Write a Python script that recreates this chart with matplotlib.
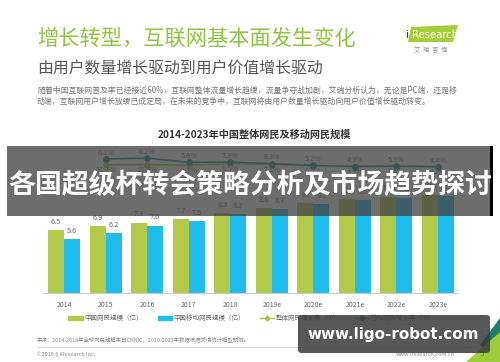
import matplotlib
matplotlib.use("Agg")
import matplotlib.pyplot as plt
from matplotlib.patches import Rectangle, Polygon, FancyBboxPatch
from matplotlib.lines import Line2D

plt.rcParams['font.family'] = ['Noto Sans CJK SC', 'DejaVu Sans']

# ---- data ----
years = ["2014", "2015", "2016", "2017", "2018", "2019e", "2020e", "2021e", "2022e", "2023e"]
netizens = [6.5, 6.9, 7.3, 7.7, 8.3, 8.8, 9.3, 9.7, 10.0, 10.2]
mobile_netizens = [5.6, 6.2, 7.0, 7.5, 8.2, 8.7, 9.2, 9.6, 9.9, 10.1]
line_years = years[1:]
overall_growth = [6.1, 6.2, 5.6, 7.3, 6.3, 5.2, 4.9, 5.3, 4.4]
mobile_growth = [11.3, 12.2, 8.2, 8.5, 7.1, 5.5, 4.5, 4.8, 4.2]

legend_labels = ["中国网民规模（亿）", "中国移动网民规模（亿）", "整体网民增长率（%）", "移动网民增长率（%）"]
chart_title = "2014-2023年中国整体网民及移动网民规模"
title = "增长转型，互联网基本面发生变化"
subtitle = "由用户数量增长驱动到用户价值增长驱动"
para1 = "随着中国互联网普及率已经接近60%，互联网整体流量增长趋缓，流量争夺战加剧，艾瑞分析认为，无论是PC端，还是移"
para2 = "动端，互联网用户增长放缓已成定局，在未来的竞争中，互联网将由用户数量增长驱动向用户价值增长驱动转变。"
source = "来源：2014-2018年全球网民规模来自CNNIC，2019-2023年数据根据艾瑞统计模型预测。"
banner = "各国超级杯转会策略分析及市场趋势探讨"
watermark = "www.ligo-robot.com"

W, H = 500, 362
GREEN = "#b2c94a"
BLUE = "#1fbdee"
TEAL = "#1e8a98"
LIME = "#a8c64a"

def P(x, y):
    return (x / W, 1 - y / H)

fig = plt.figure(figsize=(5, 3.62), dpi=100)
fig.patch.set_facecolor("white")

# ---- header texts ----
fig.text(*P(37, 39), title, fontsize=15.3, color="#8cc63f", va="center", ha="left")
fig.text(*P(37, 68), subtitle, fontsize=11.4, color="#555555", va="center", ha="left")
fig.text(*P(37, 90), para1, fontsize=5.7, color="#777777", va="center", ha="left")
fig.text(*P(37, 101), para2, fontsize=5.7, color="#777777", va="center", ha="left")

# logo
logo = Polygon([P(408, 42), P(411, 27), P(458, 25), P(453, 42)], closed=True,
               transform=fig.transFigure, facecolor="#a6ce39", edgecolor="none")
fig.add_artist(logo)
fig.text(*P(406, 35), "i", fontsize=8, color="#1d3f6e", va="center", ha="left", family="DejaVu Sans")
fig.text(*P(412, 35), "Research", fontsize=7.3, color="white", va="center", ha="left", family="DejaVu Sans")
fig.text(*P(431, 50), "艾  瑞  咨  询", fontsize=4.5, color="#888888", va="center", ha="center")

fig.text(*P(254, 135), chart_title, fontsize=7.3, color="#333333", va="center", ha="center", fontweight="bold")

# ---- chart ----
ax = fig.add_axes([43 / W, (H - 293) / H, 415 / W, (293 - 140) / H])
ax.set_facecolor("none")
x = list(range(len(years)))
bw = 0.385
b1 = ax.bar([i - bw / 2 for i in x], netizens, width=bw, color=GREEN, zorder=2)
b2 = ax.bar([i + bw / 2 for i in x], mobile_netizens, width=bw, color=BLUE, zorder=2)
for i, v in enumerate(netizens):
    ax.annotate(f"{v:.1f}", (i - bw / 2, v), xytext=(0, 3), textcoords="offset points",
                ha="center", va="bottom", fontsize=5.3, color="#666666")
for i, v in enumerate(mobile_netizens):
    ax.annotate(f"{v:.1f}", (i + bw / 2, v), xytext=(0, 3), textcoords="offset points",
                ha="center", va="bottom", fontsize=5.3, color="#666666")
ax.set_xlim(-0.505, 9.48)
ax.set_ylim(0, 15.87)
ax.set_xticks(x)
ax.set_xticklabels(years, fontsize=5, color="#666666")
ax.tick_params(axis="x", length=0, pad=6)
ax.set_yticks([])
for s in ["top", "left", "right"]:
    ax.spines[s].set_visible(False)
ax.spines["bottom"].set_color("#cccccc")
ax.spines["bottom"].set_linewidth(0.8)

ax2 = ax.twinx()
ax2.set_ylim(-110.5, 28.6)
ax2.axis("off")
lx = [years.index(y) for y in line_years]
l1, = ax2.plot(lx, overall_growth, color=LIME, lw=1.2, marker="o", ms=3.5, zorder=3)
l2, = ax2.plot(lx, mobile_growth, color=TEAL, lw=1.2, marker="o", ms=3.8, zorder=4)
for xi, og, mg in zip(lx, overall_growth, mobile_growth):
    ax2.annotate(f"{og:.1f}%", (xi, mg), xytext=(0, 4.5), textcoords="offset points",
                 ha="center", va="center", fontsize=5.2, color="#777777")
    ax2.annotate(f"{mg:.1f}%", (xi, og), xytext=(0, -4), textcoords="offset points",
                 ha="center", va="center", fontsize=5.2, color="#777777")

h1 = Rectangle((0, 0), 1, 1, color=GREEN)
h2 = Rectangle((0, 0), 1, 1, color=BLUE)
h3 = Line2D([], [], color=LIME, lw=1.0, marker="D", ms=2.5)
h4 = Line2D([], [], color=TEAL, lw=1.0, marker="D", ms=2.5)
leg = fig.legend([h1, h2, h3, h4], legend_labels, loc="center", bbox_to_anchor=P(252, 318),
                 ncol=4, frameon=False, fontsize=4.7, handlelength=2.2, handleheight=0.6,
                 handletextpad=0.3, columnspacing=2.2, labelcolor="#666666")

# ---- footer ----
fig.text(*P(37, 339), source, fontsize=3.9, color="#888888", va="center", ha="left")
fig.add_artist(Line2D([37 / W, 470 / W], [1 - 347 / H, 1 - 347 / H], transform=fig.transFigure,
                      color="#cccccc", lw=0.6))
fig.text(*P(37, 355), "©2019.6 iResearch Inc.", fontsize=4, color="#888888", va="center", ha="left")
fig.text(*P(455, 355), "www.iresearch.com.cn", fontsize=4, color="#888888", va="center", ha="right")
fig.add_artist(Polygon([P(480, 345), P(500, 318), P(500, 336), P(488, 351)], closed=True,
                       transform=fig.transFigure, facecolor="#1e7d6e", edgecolor="none"))
fig.add_artist(Polygon([P(466, 362), P(500, 362), P(500, 332)], closed=True,
                       transform=fig.transFigure, facecolor="#9ccc3a", edgecolor="none"))
fig.text(*P(483, 354), "5", fontsize=4.5, color="#666666", va="center", ha="center")

# ---- banner overlay ----
fig.add_artist(Rectangle(P(7, 216), 485 / W, 70 / H, transform=fig.transFigure,
                         facecolor="#444444", alpha=0.78, edgecolor="none", zorder=10))
fig.add_artist(Rectangle(P(490, 216), 3 / W, 70 / H, transform=fig.transFigure,
                         facecolor="black", edgecolor="none", zorder=10))
fig.text(*P(250, 185), banner, fontsize=19.4, color="white", va="center", ha="center",
         fontweight="bold", zorder=11)

# ---- watermark ----
fig.add_artist(FancyBboxPatch(P(298, 353), 192 / W, 38 / H, boxstyle="round,pad=0,rounding_size=0.008",
                              transform=fig.transFigure, facecolor="#3a3a3a", alpha=0.85,
                              edgecolor="none", zorder=10))
fig.text(*P(393, 334), watermark, fontsize=10.9, color="white", va="center", ha="center",
         fontweight="bold", family="DejaVu Sans", zorder=11)

fig.savefig("out.png", dpi=100)
